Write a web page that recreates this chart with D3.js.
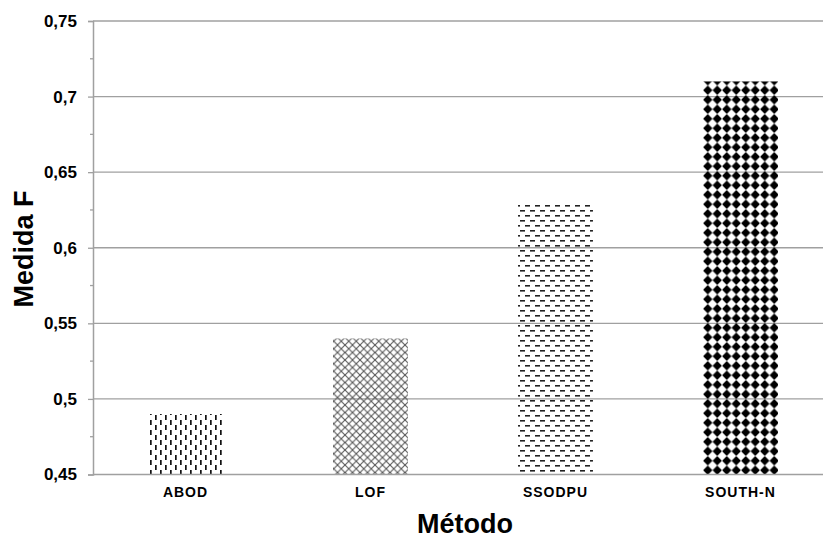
<!DOCTYPE html>
<html><head><meta charset="utf-8">
<script src="https://cdn.jsdelivr.net/npm/d3@7"></script>
<style>body{margin:0;background:#fff}svg{display:block}</style>
</head><body>
<script>
const categories = ["ABOD", "LOF", "SSODPU", "SOUTH-N"];
const values = [0.49, 0.54, 0.63, 0.71];
const yTicks = [0.45, 0.5, 0.55, 0.6, 0.65, 0.7, 0.75];
const yMinor = [0.475, 0.525, 0.575, 0.625, 0.675, 0.725];
const patterns = ["pVdash", "pCross", "pHdash", "pDiamond"];
const xTitle = "Método", yTitle = "Medida F";

const W = 823, H = 538;
const svg = d3.select("body").append("svg").attr("width", W).attr("height", H);
const defs = svg.append("defs");

// vertical dashes
let p = defs.append("pattern").attr("id","pVdash").attr("patternUnits","userSpaceOnUse").attr("width",10).attr("height",10);
p.append("rect").attr("x",0).attr("y",0).attr("width",1.7).attr("height",5).attr("fill","#111");
p.append("rect").attr("x",5).attr("y",5).attr("width",1.7).attr("height",5).attr("fill","#111");
// diagonal cross
p = defs.append("pattern").attr("id","pCross").attr("patternUnits","userSpaceOnUse").attr("width",7.5).attr("height",7.5);
p.append("path").attr("d","M0,0L7.5,7.5M7.5,0L0,7.5").attr("stroke","#555").attr("stroke-width",1.1);
// horizontal dashes
p = defs.append("pattern").attr("id","pHdash").attr("patternUnits","userSpaceOnUse").attr("width",10).attr("height",10);
p.append("rect").attr("x",0).attr("y",0).attr("width",5).attr("height",1.6).attr("fill","#222");
p.append("rect").attr("x",5).attr("y",5).attr("width",5).attr("height",1.6).attr("fill","#222");
// diamonds
p = defs.append("pattern").attr("id","pDiamond").attr("patternUnits","userSpaceOnUse").attr("width",9.5).attr("height",9.5);
p.append("path").attr("d","M4.75,0.1L9.4,4.75L4.75,9.4L0.1,4.75Z").attr("fill","#000");

const x0 = 93, plotRight = 833, yTop = 21, yBot = 474.5;
const x = d3.scaleBand().domain(categories).range([x0, plotRight]).paddingInner(0.595).paddingOuter(0.2975);
const y = d3.scaleLinear().domain([0.45, 0.75]).range([yBot, yTop]);

// gridlines
svg.append("g").selectAll("line").data(yTicks.slice(1)).join("line")
  .attr("x1", x0).attr("x2", W).attr("y1", d=>y(d)).attr("y2", d=>y(d))
  .attr("stroke","#a0a0a0").attr("stroke-width",1.3);

// bars
svg.append("g").selectAll("rect").data(values).join("rect")
  .attr("x",(d,i)=>x(categories[i])).attr("width",x.bandwidth())
  .attr("y",d=>y(d)).attr("height",d=>y(0.45)-y(d))
  .attr("fill",(d,i)=>`url(#${patterns[i]})`);

// y axis
const fmt = d => String(+d.toFixed(2)).replace(".", ",");
const yAxis = d3.axisLeft(y).tickValues(yTicks).tickFormat(fmt).tickSize(5).tickPadding(11);
const gy = svg.append("g").attr("transform",`translate(${x0},0)`).call(yAxis);
gy.select(".domain").attr("stroke","#a0a0a0").attr("stroke-width",1.5);
gy.selectAll(".tick line").attr("stroke","#a0a0a0").attr("stroke-width",1.3);
gy.selectAll("text").attr("font-family","Liberation Sans, Arial, sans-serif").attr("font-weight","bold").attr("font-size",17).attr("fill","#000");
svg.append("g").selectAll("line").data(yMinor).join("line")
  .attr("x1",x0-3).attr("x2",x0).attr("y1",d=>y(d)).attr("y2",d=>y(d))
  .attr("stroke","#a0a0a0").attr("stroke-width",1.3);

// x axis
const xAxis = d3.axisBottom(x).tickSize(0).tickPadding(13);
const gx = svg.append("g").attr("transform",`translate(0,${yBot})`).call(xAxis);
gx.select(".domain").remove();
svg.append("line").attr("x1",x0).attr("x2",W).attr("y1",yBot).attr("y2",yBot).attr("stroke","#a0a0a0").attr("stroke-width",1.5);
gx.selectAll("text").attr("font-family","Liberation Sans, Arial, sans-serif").attr("font-weight","bold").attr("font-size",14).attr("letter-spacing",1).attr("fill","#000");

// titles
svg.append("text").attr("x",465).attr("y",533).attr("text-anchor","middle")
  .attr("font-family","Liberation Sans, Arial, sans-serif").attr("font-weight","bold").attr("font-size",27).text(xTitle);
svg.append("text").attr("transform","translate(33,249) rotate(-90)").attr("text-anchor","middle")
  .attr("font-family","Liberation Sans, Arial, sans-serif").attr("font-weight","bold").attr("font-size",27).text(yTitle);
</script>
</body></html>
